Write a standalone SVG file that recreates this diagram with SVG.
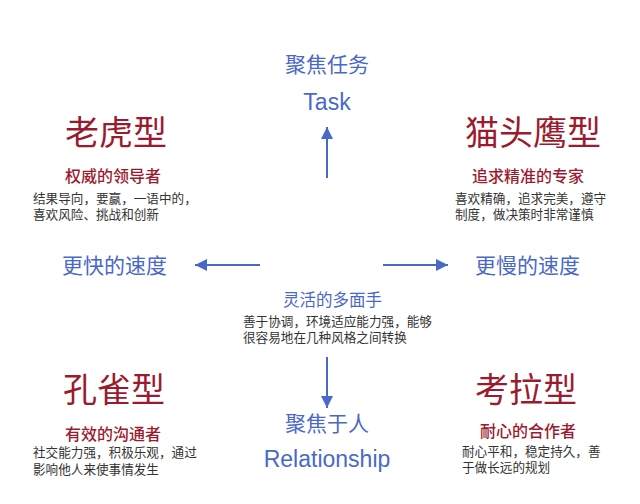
<svg xmlns="http://www.w3.org/2000/svg" width="640" height="504" viewBox="0 0 640 504">
<defs>
<marker id="ah" viewBox="0 0 12 12" refX="12" refY="6" markerWidth="12" markerHeight="12" markerUnits="userSpaceOnUse" orient="auto">
<path d="M0,0 L12,6 L0,12 Z" fill="#4a68c8"/>
</marker>
<style>
text{font-family:"Noto Sans CJK SC","Liberation Sans",sans-serif;}
.axis{fill:#4a68c8;font-size:21px;}
.en{font-family:"Liberation Sans","Noto Sans CJK SC",sans-serif;fill:#4a68c8;font-size:23px;}
.big{fill:#9b1b2e;font-size:34px;}
.sub{fill:#9b1b2e;font-size:16px;font-weight:500;}
.subb{fill:#4a68c8;font-size:16.5px;}
.body{fill:#333333;font-size:12.6px;}
.ln{stroke:#4a68c8;stroke-width:2;fill:none;marker-end:url(#ah);}
</style>
</defs>
<rect width="640" height="504" fill="#ffffff"/>
<g id="connectors">
<line class="ln" x1="327" y1="178" x2="327" y2="127"/>
<line class="ln" x1="260" y1="265" x2="195" y2="265"/>
<line class="ln" x1="383" y1="265" x2="448" y2="265"/>
<line class="ln" x1="327" y1="357" x2="327" y2="408"/>
</g>
<g id="task">
<text class="axis" x="327" y="72" text-anchor="middle">聚焦任务</text>
<text class="en" x="327" y="110" text-anchor="middle">Task</text>
</g>
<g id="faster">
<text class="axis" x="62" y="273">更快的速度</text>
</g>
<g id="slower">
<text class="axis" x="475" y="273">更慢的速度</text>
</g>
<g id="relationship">
<text class="axis" x="327" y="431" text-anchor="middle">聚焦于人</text>
<text class="en" x="327" y="467" text-anchor="middle">Relationship</text>
</g>
<g id="tiger">
<text class="big" x="65" y="145">老虎型</text>
<text class="sub" x="65" y="182">权威的领导者</text>
<text class="body" x="33" y="203">结果导向，要赢，一语中的，</text>
<text class="body" x="33" y="219">喜欢风险、挑战和创新</text>
</g>
<g id="owl">
<text class="big" x="465" y="145">猫头鹰型</text>
<text class="sub" x="472" y="182">追求精准的专家</text>
<text class="body" x="455" y="203">喜欢精确，追求完美，遵守</text>
<text class="body" x="455" y="219">制度，做决策时非常谨慎</text>
</g>
<g id="chameleon">
<text class="subb" x="283" y="306">灵活的多面手</text>
<text class="body" x="243" y="326">善于协调，环境适应能力强，能够</text>
<text class="body" x="243" y="342">很容易地在几种风格之间转换</text>
</g>
<g id="peacock">
<text class="big" x="63" y="402">孔雀型</text>
<text class="sub" x="65" y="440">有效的沟通者</text>
<text class="body" x="33" y="457">社交能力强，积极乐观，通过</text>
<text class="body" x="33" y="474">影响他人来使事情发生</text>
</g>
<g id="koala">
<text class="big" x="475" y="402">考拉型</text>
<text class="sub" x="480" y="437">耐心的合作者</text>
<text class="body" x="462" y="456">耐心平和，稳定持久，善</text>
<text class="body" x="462" y="472">于做长远的规划</text>
</g>
</svg>
